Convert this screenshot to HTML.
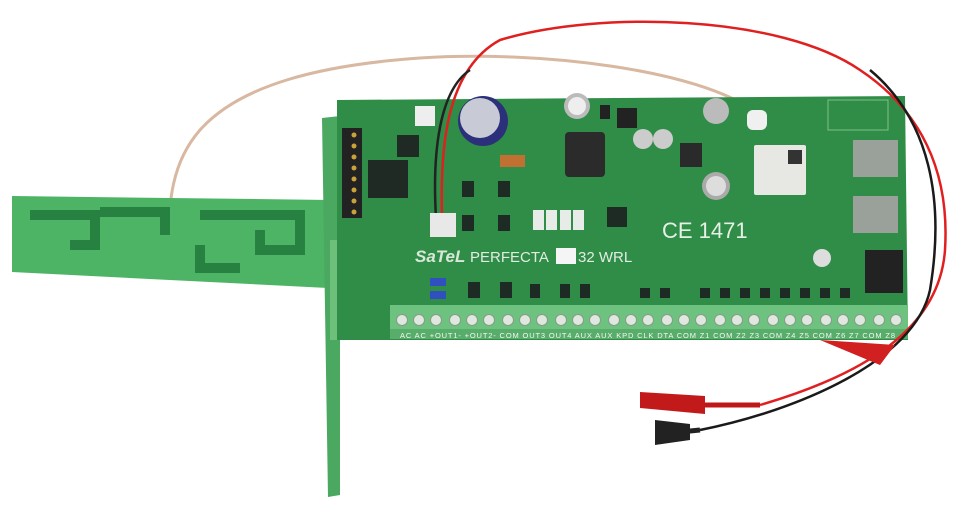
<!DOCTYPE html>
<html><head><meta charset="utf-8"><style>
html,body{margin:0;padding:0;background:#fff;width:960px;height:505px;overflow:hidden}
svg{display:block}
text{font-family:"Liberation Sans",sans-serif}
</style></head><body>
<svg width="960" height="505" viewBox="0 0 960 505" xmlns="http://www.w3.org/2000/svg">
<path d="M168,252 C170,220 165,170 200,130 C240,85 320,65 420,58 C540,50 700,70 755,112" fill="none" stroke="#d8b8a0" stroke-width="3"/>
<polygon points="12,196 330,200 328,288 12,272" fill="#4cb464"/>
<g fill="none" stroke="#217a3c" stroke-width="10" opacity="0.85">
<path d="M30,215 H95 V245 H70"/>
<path d="M100,212 H165 V235"/>
<path d="M200,215 H300 V250 H260 V230"/>
<path d="M200,245 V268 H240"/>
</g>
<polygon points="322,118 340,116 340,495 328,497" fill="#4aa860"/>
<polygon points="330,240 395,240 395,340 330,340" fill="#6cc07a"/>
<rect x="345" y="250" width="30" height="70" rx="4" fill="#f2f2ee"/>
<polygon points="337,100 905,96 908,340 337,340" fill="#2f8d47"/>
<rect x="342" y="128" width="20" height="90" fill="#222"/>
<g fill="#c9a33a"><circle cx="354" cy="135" r="2.5"/><circle cx="354" cy="146" r="2.5"/><circle cx="354" cy="157" r="2.5"/><circle cx="354" cy="168" r="2.5"/><circle cx="354" cy="179" r="2.5"/><circle cx="354" cy="190" r="2.5"/><circle cx="354" cy="201" r="2.5"/><circle cx="354" cy="212" r="2.5"/></g>
<rect x="368" y="160" width="40" height="38" fill="#1f2a25"/>
<rect x="397" y="135" width="22" height="22" fill="#1f2a25"/>
<rect x="415" y="106" width="20" height="20" fill="#eee"/>
<circle cx="483" cy="121" r="25" fill="#2c2f7a"/>
<circle cx="480" cy="118" r="20" fill="#c8cbd6"/>
<rect x="500" y="155" width="25" height="12" fill="#c07030"/>
<rect x="565" y="132" width="40" height="45" rx="4" fill="#2b2b2b"/>
<circle cx="577" cy="106" r="13" fill="#bbb"/><circle cx="577" cy="106" r="9" fill="#eee"/>
<circle cx="643" cy="139" r="10" fill="#ccc"/><circle cx="663" cy="139" r="10" fill="#ccc"/>
<circle cx="716" cy="111" r="13" fill="#bbb"/><circle cx="716" cy="186" r="14" fill="#aaa"/><circle cx="716" cy="186" r="10" fill="#ddd"/>
<rect x="680" y="143" width="22" height="24" fill="#2a2a2a"/>
<rect x="600" y="105" width="10" height="14" fill="#222"/>
<rect x="617" y="108" width="20" height="20" fill="#222"/>
<g fill="#e8ece8"><rect x="533" y="210" width="11" height="20"/><rect x="546" y="210" width="11" height="20"/><rect x="560" y="210" width="11" height="20"/><rect x="573" y="210" width="11" height="20"/></g>
<g fill="#1e2a24"><rect x="462" y="181" width="12" height="16"/><rect x="498" y="181" width="12" height="16"/><rect x="462" y="215" width="12" height="16"/><rect x="498" y="215" width="12" height="16"/><rect x="607" y="207" width="20" height="20"/></g>
<rect x="754" y="145" width="52" height="50" rx="2" fill="#e7e8e4"/>
<rect x="788" y="150" width="14" height="14" fill="#333"/>
<rect x="853" y="140" width="45" height="37" fill="#9aa09a"/>
<rect x="853" y="196" width="45" height="37" fill="#9aa09a"/>
<rect x="865" y="250" width="38" height="43" fill="#222"/>
<circle cx="822" cy="258" r="9" fill="#ddd"/>
<rect x="747" y="110" width="20" height="20" rx="6" fill="#f0f0f0"/>
<rect x="828" y="100" width="60" height="30" fill="none" stroke="#7fc08a"/>
<text x="415" y="262" font-size="17" font-weight="bold" fill="#d8e8d8" font-style="italic">SaTeL</text>
<text x="470" y="262" font-size="15" fill="#e2ece2" font-family="Liberation Serif">PERFECTA</text>
<rect x="556" y="248" width="20" height="16" fill="#f5f5f5"/>
<text x="578" y="262" font-size="15" fill="#e2ece2" font-family="Liberation Serif">32 WRL</text>
<text x="662" y="238" font-size="22" fill="#e6f0e6">CE 1471</text>
<rect x="430" y="278" width="16" height="8" fill="#3050c0"/><rect x="430" y="291" width="16" height="8" fill="#3050c0"/>
<g fill="#1e2a24">
<rect x="468" y="282" width="12" height="16"/><rect x="500" y="282" width="12" height="16"/><rect x="530" y="284" width="10" height="14"/><rect x="560" y="284" width="10" height="14"/><rect x="580" y="284" width="10" height="14"/>
<rect x="640" y="288" width="10" height="10"/><rect x="660" y="288" width="10" height="10"/><rect x="700" y="288" width="10" height="10"/><rect x="720" y="288" width="10" height="10"/><rect x="740" y="288" width="10" height="10"/><rect x="760" y="288" width="10" height="10"/><rect x="780" y="288" width="10" height="10"/><rect x="800" y="288" width="10" height="10"/><rect x="820" y="288" width="10" height="10"/><rect x="840" y="288" width="10" height="10"/>
</g>
<rect x="390" y="305" width="518" height="28" fill="#6cc27e"/>
<rect x="390" y="329" width="518" height="10" fill="#58ad6a"/>
<g fill="#dfe8df" stroke="#8a9a8a" stroke-width="1">
<circle cx="402" cy="320" r="5.5"/><circle cx="419" cy="320" r="5.5"/><circle cx="436" cy="320" r="5.5"/><circle cx="455" cy="320" r="5.5"/><circle cx="472" cy="320" r="5.5"/><circle cx="489" cy="320" r="5.5"/><circle cx="508" cy="320" r="5.5"/><circle cx="525" cy="320" r="5.5"/><circle cx="542" cy="320" r="5.5"/><circle cx="561" cy="320" r="5.5"/><circle cx="578" cy="320" r="5.5"/><circle cx="595" cy="320" r="5.5"/><circle cx="614" cy="320" r="5.5"/><circle cx="631" cy="320" r="5.5"/><circle cx="648" cy="320" r="5.5"/><circle cx="667" cy="320" r="5.5"/><circle cx="684" cy="320" r="5.5"/><circle cx="701" cy="320" r="5.5"/><circle cx="720" cy="320" r="5.5"/><circle cx="737" cy="320" r="5.5"/><circle cx="754" cy="320" r="5.5"/><circle cx="773" cy="320" r="5.5"/><circle cx="790" cy="320" r="5.5"/><circle cx="807" cy="320" r="5.5"/><circle cx="826" cy="320" r="5.5"/><circle cx="843" cy="320" r="5.5"/><circle cx="860" cy="320" r="5.5"/><circle cx="879" cy="320" r="5.5"/><circle cx="896" cy="320" r="5.5"/>
</g>
<text x="400" y="338" font-size="7.5" fill="#f4f8f4" textLength="495">AC AC +OUT1- +OUT2- COM OUT3 OUT4 AUX AUX KPD CLK DTA COM Z1 COM Z2 Z3 COM Z4 Z5 COM Z6 Z7 COM Z8</text>
<path d="M442,218 C440,150 445,70 500,40 C600,10 780,15 860,70 C920,110 950,170 945,250 C940,320 880,370 760,405" fill="none" stroke="#e02020" stroke-width="2.5"/>
<path d="M436,218 C432,150 440,90 470,70" fill="none" stroke="#222" stroke-width="2.5"/>
<path d="M870,70 C930,120 945,200 930,290 C915,360 800,410 700,430" fill="none" stroke="#1a1a1a" stroke-width="2.5"/>
<rect x="430" y="213" width="26" height="24" fill="#e8e8e8"/>
<path d="M760,405 L700,405" stroke="#c01818" stroke-width="5"/>
<polygon points="640,392 705,396 705,414 640,408" fill="#c21a1a"/>
<path d="M700,430 L680,432" stroke="#222" stroke-width="5"/>
<polygon points="655,420 690,424 690,440 655,445" fill="#222"/>
<path d="M820,340 L895,345 L880,365 Z" fill="#d02020"/>
</svg>
</body></html>
